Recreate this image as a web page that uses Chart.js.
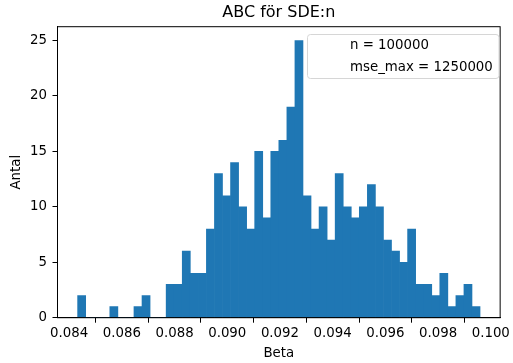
<!DOCTYPE html>
<html>
<head>
<meta charset="utf-8">
<script src="https://cdn.jsdelivr.net/npm/chart.js@4"></script>
<style>
  html, body { margin: 0; padding: 0; background: #fff; }
  #wrap { width: 513px; height: 363px; }
</style>
</head>
<body>
<div id="wrap"><canvas id="c" width="513" height="363"></canvas></div>
<script>
// Histogram data (50 bins)
const binStart = 0.084322;
const binWidth = 0.00030542;
const counts = [2,0,0,0,1,0,0,1,2,0, 0,3,3,6,4,4,8,13,11,14, 10,8,15,9,15,16,19,25,11,8, 10,7,13,10,9,10,12,10,7,6, 5,8,3,3,2,4,1,2,3,1];
const xTicks = [0.084, 0.086, 0.088, 0.090, 0.092, 0.094, 0.096, 0.098, 0.100];
const yTicks = [0, 5, 10, 15, 20, 25];
const legendLines = ['n = 100000', 'mse_max = 1250000'];
const titleText = 'ABC för SDE:n';
const xLabel = 'Beta';
const yLabel = 'Antal';

const points = counts.map((c, i) => ({ x: binStart + (i + 0.5) * binWidth, y: c }));
const FONT = 'DejaVu Sans';
const FS = 13.33;

const framePlugin = {
  id: 'frame',
  afterDatasetsDraw(chart) {
    const { ctx, chartArea: a } = chart;
    ctx.save();
    ctx.strokeStyle = '#000';
    ctx.lineWidth = 1;
    ctx.strokeRect(a.left, a.top, a.right - a.left, a.bottom - a.top);
    ctx.restore();
  }
};

const titlePlugin = {
  id: 'axTitle',
  afterDraw(chart) {
    const { ctx, chartArea: a } = chart;
    ctx.save();
    ctx.fillStyle = '#000';
    ctx.font = '16px "' + FONT + '"';
    ctx.textAlign = 'center';
    ctx.textBaseline = 'middle';
    ctx.fillText(titleText, (a.left + a.right) / 2, 13);
    ctx.restore();
  }
};

const legendBoxPlugin = {
  id: 'legendBox',
  afterDraw(chart) {
    const { ctx } = chart;
    const x = 307.5, y = 34.5, w = 191.5, h = 44, r = 3;
    ctx.save();
    ctx.beginPath();
    ctx.moveTo(x + r, y);
    ctx.lineTo(x + w - r, y);
    ctx.quadraticCurveTo(x + w, y, x + w, y + r);
    ctx.lineTo(x + w, y + h - r);
    ctx.quadraticCurveTo(x + w, y + h, x + w - r, y + h);
    ctx.lineTo(x + r, y + h);
    ctx.quadraticCurveTo(x, y + h, x, y + h - r);
    ctx.lineTo(x, y + r);
    ctx.quadraticCurveTo(x, y, x + r, y);
    ctx.closePath();
    ctx.fillStyle = 'rgba(255,255,255,0.8)';
    ctx.fill();
    ctx.strokeStyle = '#d6d6d6';
    ctx.lineWidth = 1;
    ctx.stroke();
    ctx.fillStyle = '#000';
    ctx.font = FS + 'px "' + FONT + '"';
    ctx.textBaseline = 'middle';
    ctx.textAlign = 'left';
    legendLines.forEach((t, i) => ctx.fillText(t, 350, 46 + i * 21.5));
    ctx.restore();
  }
};

new Chart(document.getElementById('c'), {
  type: 'bar',
  data: {
    datasets: [{
      data: points,
      backgroundColor: '#1f77b4',
      borderWidth: 0,
      barPercentage: 1.0,
      categoryPercentage: 1.0
    }]
  },
  options: {
    responsive: false,
    animation: false,
    devicePixelRatio: 1,
    layout: { padding: { left: 0, right: 7.5, top: 26.7, bottom: 0 } },
    plugins: {
      legend: { display: false },
      tooltip: { enabled: false },
      title: { display: false }
    },
    scales: {
      x: {
        type: 'linear',
        min: 0.083558,
        max: 0.100356,
        offset: false,
        afterFit(s) { s.height = 45.3; },
        afterBuildTicks(s) { s.ticks = xTicks.map(v => ({ value: v })); },
        ticks: {
          color: '#000',
          font: { family: FONT, size: FS },
          padding: 3,
          maxRotation: 0,
          autoSkip: false,
          callback: v => Number(v).toFixed(3)
        },
        grid: { drawOnChartArea: false, drawTicks: true, tickLength: 5, tickColor: '#000', tickWidth: 1 },
        border: { display: true, color: '#000', width: 1 },
        title: { display: true, text: xLabel, color: '#000', font: { family: FONT, size: FS }, padding: { top: 0, bottom: 1.5 } }
      },
      y: {
        min: 0,
        max: 26.25,
        afterFit(s) { s.width = 57.5; },
        afterBuildTicks(s) { s.ticks = yTicks.map(v => ({ value: v })); },
        ticks: {
          color: '#000',
          font: { family: FONT, size: FS },
          padding: 5.5
        },
        grid: { drawOnChartArea: false, drawTicks: true, tickLength: 5, tickColor: '#000', tickWidth: 1 },
        border: { display: true, color: '#000', width: 1 },
        title: { display: true, text: yLabel, color: '#000', font: { family: FONT, size: FS }, padding: { top: 8.7, bottom: 0 } }
      }
    }
  },
  plugins: [framePlugin, titlePlugin, legendBoxPlugin]
});
</script>
</body>
</html>
